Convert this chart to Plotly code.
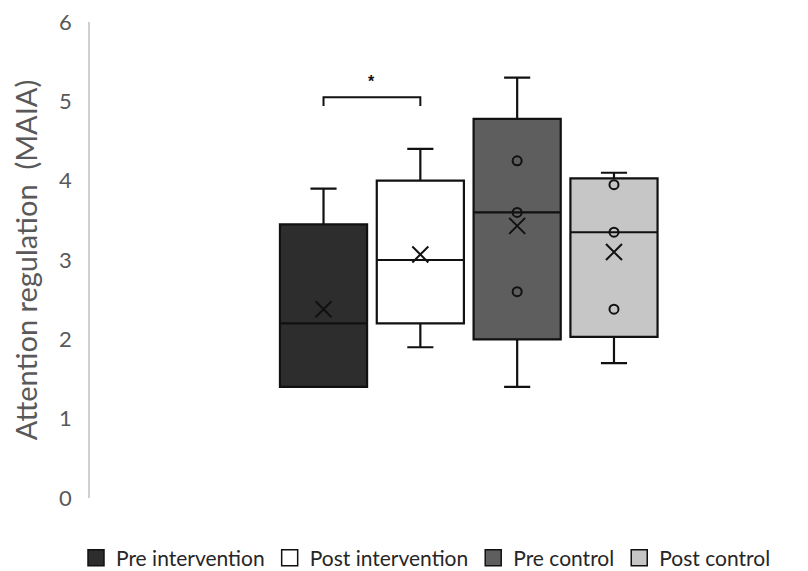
import plotly.graph_objects as go

groups = ["Pre intervention", "Post intervention", "Pre control", "Post control"]
fills = ["#2d2d2d", "#ffffff", "#5e5e5e", "#c6c6c6"]
mins = [1.4, 1.9, 1.4, 1.7]
q1s = [1.4, 2.2, 2.0, 2.03]
medians = [2.2, 3.0, 3.6, 3.35]
q3s = [3.45, 4.0, 4.78, 4.03]
maxs = [3.9, 4.4, 5.3, 4.1]
means = [2.38, 3.07, 3.43, 3.1]
inner_points = [[], [], [4.25, 3.6, 2.6], [3.95, 3.35, 2.38]]
y_ticks = [0, 1, 2, 3, 4, 5, 6]
sig_pair = (0, 1)
sig_level = 5.05
sig_label = "*"

line_col = "#111111"
fig = go.Figure()
for i, g in enumerate(groups):
    fig.add_trace(go.Box(
        x=[i], q1=[q1s[i]], median=[medians[i]], q3=[q3s[i]],
        lowerfence=[mins[i]], upperfence=[maxs[i]],
        width=0.9, whiskerwidth=0.3, fillcolor=fills[i],
        line=dict(color=line_col, width=2.2), boxpoints=False,
        showlegend=False, hoverinfo="skip"))
    fig.add_trace(go.Scatter(
        x=[i], y=[means[i]], mode="markers",
        marker=dict(symbol="x-thin-open", size=16, color=line_col,
                    line=dict(color=line_col, width=2)),
        showlegend=False, hoverinfo="skip"))
    if inner_points[i]:
        fig.add_trace(go.Scatter(
            x=[i] * len(inner_points[i]), y=inner_points[i], mode="markers",
            marker=dict(symbol="circle-open", size=9, color=line_col,
                        line=dict(color=line_col, width=2)),
            showlegend=False, hoverinfo="skip"))
    # legend entry
    fig.add_trace(go.Scatter(
        x=[None], y=[None], mode="markers", name=g,
        marker=dict(symbol="square", size=19, color=fills[i], line=dict(color=line_col, width=1.5))))

a, b = sig_pair
fig.add_shape(type="path", xref="x", yref="y",
              path=f"M {a} {sig_level-0.11} L {a} {sig_level} L {b} {sig_level} L {b} {sig_level-0.11}",
              line=dict(color=line_col, width=2))
fig.add_annotation(x=(a + b) / 2, y=sig_level + 0.2, text="<b>" + sig_label + "</b>", showarrow=False,
                   font=dict(size=16, color=line_col, family="Liberation Sans"))

# page body has an 8px default margin, so the figure is 8px smaller than the window
fig.update_layout(
    width=800, height=563,
    margin=dict(l=82, r=0, t=14, b=73, autoexpand=False),
    plot_bgcolor="white", paper_bgcolor="white",
    font=dict(family="Lato, Open Sans, sans-serif", color="#595959"),
    xaxis=dict(range=[-2.412, 5.004], showticklabels=False, showgrid=False,
               zeroline=False, showline=False, ticks=""),
    yaxis=dict(range=[0, 6], tickvals=y_ticks, showgrid=False, zeroline=False,
               showline=True, linecolor="#d0d0d0", linewidth=1.5,
               tickfont=dict(size=22, color="#595959"), ticks="", ticklen=0,
               ticklabelstandoff=12, ticklabeloverflow="allow",
               title=dict(text="Attention regulation  (MAIA)", font=dict(size=29, color="#595959"),
                          standoff=26)),
    legend=dict(orientation="h", xref="container", x=0.085, xanchor="left",
                yref="container", y=(563 - 550) / 563, yanchor="middle",
                font=dict(size=21, color="#262626"), itemwidth=30, tracegroupgap=0),
    showlegend=True,
)

fig.write_html("out.html")
